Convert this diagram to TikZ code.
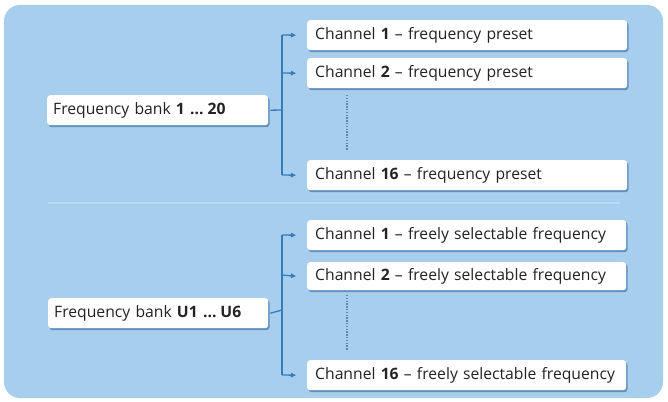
\documentclass[tikz,border=0pt]{standalone}
\usepackage{fontspec}
\setmainfont{Open Sans}
\usetikzlibrary{arrows.meta}
\definecolor{panelbg}{RGB}{168,206,238}
\definecolor{divline}{RGB}{186,219,245}
\definecolor{shadowc}{RGB}{98,146,190}
\definecolor{linec}{RGB}{52,124,186}
\definecolor{dotc}{RGB}{90,136,178}
\definecolor{textc}{RGB}{35,35,35}
\begin{document}
\begin{tikzpicture}[x=1pt,y=-1pt,
  box/.style={fill=white, rounded corners=3pt, inner sep=0pt, anchor=north west, text=textc,
    font=\fontsize{15.7}{18}\selectfont, align=left},
  conn/.style={draw=linec, line width=1.3pt},
  arr/.style={conn, -{Triangle[length=5pt,width=4.5pt]}},
  dots/.style={draw=dotc, line width=2pt, dash pattern=on 1.3pt off 1.5pt}]
\useasboundingbox (0,0) rectangle (668,401);
\fill[white] (0,0) rectangle (668,401);
\fill[panelbg, rounded corners=16pt] (4,5) rectangle (663,398);
\draw[divline, line width=1.5pt] (48,203) -- (620,203);

% shadows
\foreach \xa/\ya/\xb/\yb in {47/95/268/125, 307/20/627/50, 307/58/627/88, 307/160/627/190,
  48/298/268/328, 307/220/626/250, 307/262/626/290, 307/360/626/390}{
  \fill[shadowc, rounded corners=3pt] (\xa+1.5,\ya+2) rectangle (\xb+1.5,\yb+2.2);
}

% top section
\node[box, minimum width=221pt, minimum height=30pt, text width=221pt-12pt, inner xsep=6pt] (fb1) at (47,95) {Frequency bank \textbf{1 ...\kern4pt 20}};
\node[box, minimum width=320pt, minimum height=30pt, text width=320pt-16pt, inner xsep=8pt] (c1) at (307,20) {Channel \textbf{1} -- frequency preset};
\node[box, minimum width=320pt, minimum height=30pt, text width=320pt-16pt, inner xsep=8pt] (c2) at (307,58) {Channel \textbf{2} -- frequency preset};
\node[box, minimum width=320pt, minimum height=30pt, text width=320pt-16pt, inner xsep=8pt] (c16) at (307,160) {Channel \textbf{16} -- frequency preset};

\coordinate (bt1) at (282,35);
\coordinate (bb1) at (282,175);
\draw[conn] (fb1.east) ++(2,0) -- (282,110);
\draw[conn] (bt1) -- (bb1);
\draw[arr] (bt1) -- (c1.west -| 296,0);
\draw[arr] (282,73) -- (c2.west -| 296,0);
\draw[arr] (bb1) -- (c16.west -| 296,0);
\coordinate (d1a) at (347,95);
\coordinate (d1b) at (347,150);
\draw[dots] (d1a) -- (d1b);

% bottom section
\node[box, minimum width=220pt, minimum height=30pt, text width=220pt-12pt, inner xsep=6pt] (fb2) at (48,298) {Frequency bank \textbf{U1 ...\kern4pt U6}};
\node[box, minimum width=319pt, minimum height=30pt, text width=319pt-16pt, inner xsep=8pt] (d1) at (307,220) {Channel \textbf{1} -- freely selectable frequency};
\node[box, minimum width=319pt, minimum height=28pt, text width=319pt-16pt, inner xsep=8pt] (d2) at (307,262) {Channel \textbf{2} -- freely selectable frequency};
\node[box, minimum width=319pt, minimum height=30pt, text width=319pt-16pt, inner xsep=8pt] (d16) at (307,360) {Channel \textbf{16} -- freely selectable frequency};

\coordinate (bt2) at (282,235);
\coordinate (bb2) at (282,375);
\draw[conn] (fb2.east) ++(2,0) -- (282,310);
\draw[conn] (bt2) -- (bb2);
\draw[arr] (bt2) -- (d1.west -| 296,0);
\draw[arr] (282,275) -- (d2.west -| 296,0);
\draw[arr] (bb2) -- (d16.west -| 296,0);
\coordinate (d2a) at (347,295);
\coordinate (d2b) at (347,350);
\draw[dots] (d2a) -- (d2b);
\end{tikzpicture}
\end{document}
